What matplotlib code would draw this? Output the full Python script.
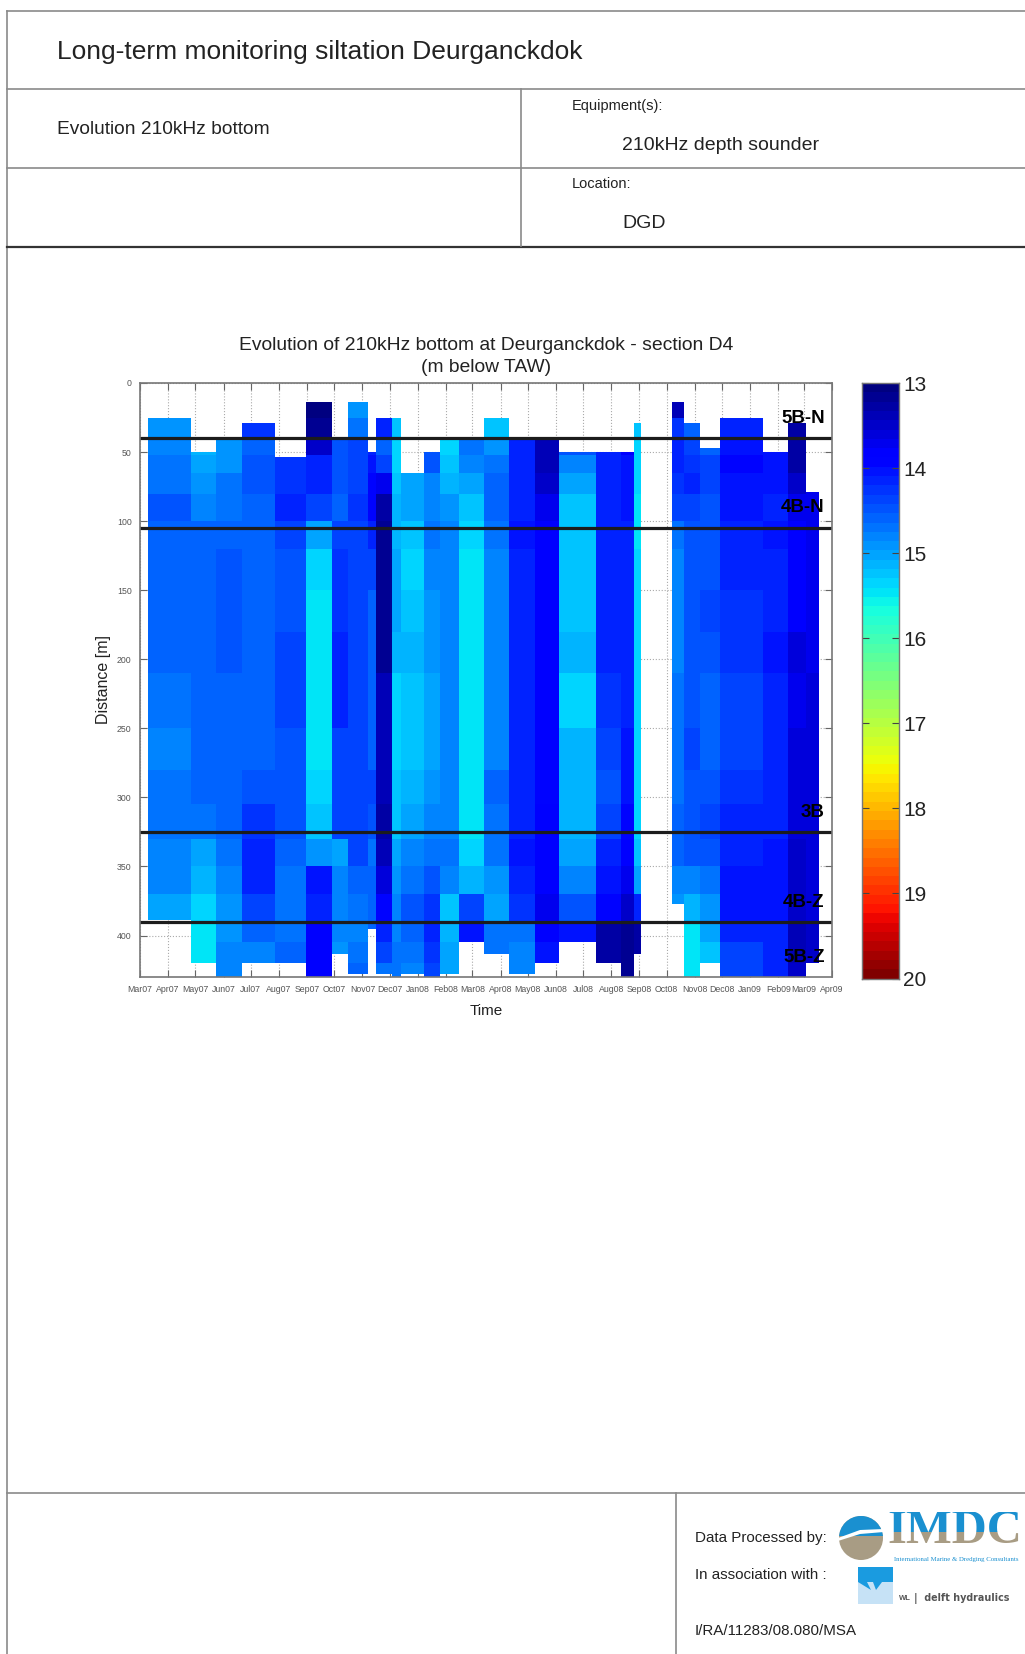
import numpy as np
import pandas as pd
import matplotlib
matplotlib.use('Agg')
import matplotlib.pyplot as plt
from matplotlib.patches import Circle, Rectangle, Polygon

plt.rcParams['font.family'] = ['Liberation Sans', 'DejaVu Sans']

n = np.nan

# Survey columns: edges in days after 1 March 2007
col_edges = [8.5, 56.5, 83.4, 112.7, 148.3, 182.8, 211, 228.7, 251, 260, 278, 287, 313, 330, 351,
             378.5, 406.7, 435, 461.4, 502, 529.4, 544.4, 552, 585.6, 599, 617, 639, 686, 713, 733.5, 747.5]
col_top = [25, 50, 40, 29, 53.5, 14, 40, 14, 50, 25, 25, 65, 50, 40, 40, 25, 40, 40, 50, 50, 50, 29, 0,
           14, 29, 47, 25, 50, 29, 78.7]
col_bottom = [388.8, 420, 430, 420, 420, 430, 413.5, 428, 395, 428, 430, 428, 430, 428, 406, 413, 428, 420,
              406, 420, 430, 413, 0, 377.5, 430, 420, 430, 430, 430, 420]

depth_edges = [14, 25, 40, 52, 65, 80, 100, 120, 150, 180, 210, 250, 280, 305, 330, 350, 370, 390, 405, 420, 430]

# Bottom level per survey, one value per depth band (m below TAW)
survey_values = [
    [n, 14.95, 14.85, 14.7, 14.65, 14.45, 14.55, 14.6, 14.6, 14.6, 14.65, 14.75, 14.65, 14.65, 14.75, 14.85, 15.0, n, n, n],
    [n, n, 15.1, 15.0, 14.9, 14.8, 14.6, 14.6, 14.6, 14.6, 14.6, 14.6, 14.6, 14.65, 15.0, 15.15, 15.35, 15.45, 15.45, n],
    [n, n, 14.9, 14.9, 14.7, 14.7, 14.6, 14.5, 14.45, 14.45, 14.55, 14.55, 14.55, 14.6, 14.7, 14.8, 14.9, 14.9, 14.85, 14.85],
    [n, 14.3, 14.55, 14.5, 14.45, 14.55, 14.55, 14.55, 14.55, 14.55, 14.55, 14.55, 14.45, 14.3, 14.2, 14.2, 14.35, 14.6, 14.85, n],
    [n, n, n, 14.3, 14.3, 14.2, 14.4, 14.45, 14.45, 14.4, 14.35, 14.5, 14.45, 14.5, 14.55, 14.7, 14.7, 14.65, 14.55, n],
    [13.1, 13.15, 13.45, 14.15, 14.2, 14.4, 15.0, 15.3, 15.45, 15.45, 15.45, 15.45, 15.4, 15.2, 14.9, 14.0, 14.1, 13.85, 13.85, 13.8],
    [n, n, 14.5, 14.5, 14.45, 14.55, 14.4, 14.3, 14.25, 14.1, 14.15, 14.35, 14.35, 14.4, 15.0, 14.85, 14.85, 14.85, 14.9, n],
    [14.9, 14.65, 14.4, 14.35, 14.35, 14.25, 14.4, 14.4, 14.4, 14.4, 14.4, 14.4, 14.4, 14.35, 14.4, 14.55, 14.7, 14.75, 14.7, 14.6],
    [n, n, 14.1, 14.05, 13.9, 13.95, 14.2, 14.4, 14.6, 14.6, 14.6, 14.55, 14.4, 14.45, 14.7, 14.6, 14.6, 14.55, n, n],
    [n, 14.1, 14.55, 14.4, 13.7, 13.3, 13.2, 13.2, 13.15, 13.2, 13.4, 13.4, 13.4, 13.3, 13.4, 13.6, 13.9, 14.1, 14.4, 14.7],
    [n, 15.2, 15.3, 15.4, 15.2, 15.1, 15.1, 15.0, 15.0, 15.1, 15.3, 15.4, 15.2, 15.2, 15.0, 14.9, 14.8, 14.75, 14.65, 14.65],
    [n, n, n, n, 15.0, 15.0, 15.2, 15.3, 15.25, 15.1, 15.2, 15.2, 15.1, 15.05, 14.8, 14.65, 14.5, 14.55, 14.7, 14.8],
    [n, n, 14.5, 14.5, 14.8, 14.75, 14.7, 14.8, 14.95, 14.95, 15.05, 15.0, 14.95, 14.85, 14.7, 14.5, 14.25, 14.2, 14.25, 14.35],
    [n, n, 15.3, 15.2, 15.1, 14.95, 14.75, 14.75, 14.75, 14.75, 14.85, 14.85, 14.85, 14.85, 14.7, 14.8, 15.2, 15.1, 15.05, 15.0],
    [n, n, 14.7, 14.8, 15.0, 15.2, 15.4, 15.45, 15.45, 15.45, 15.45, 15.5, 15.45, 15.45, 15.35, 15.1, 14.35, 14.05, n, n],
    [n, 15.2, 14.9, 14.65, 14.6, 14.55, 14.7, 14.75, 14.75, 14.75, 14.75, 14.75, 14.6, 14.65, 14.65, 14.95, 15.0, 14.65, 14.65, n],
    [n, n, 14.15, 14.15, 14.15, 14.1, 14.05, 14.1, 14.15, 14.2, 14.2, 14.2, 14.2, 14.1, 14.05, 14.2, 14.3, 14.7, 14.8, 14.85],
    [n, n, 13.4, 13.4, 13.45, 13.7, 13.85, 13.85, 13.85, 13.85, 13.85, 13.85, 13.9, 13.85, 13.85, 13.8, 13.75, 13.85, 14.05, n],
    [n, n, 14.5, 14.8, 15.0, 15.2, 15.25, 15.25, 15.2, 15.15, 15.3, 15.15, 15.15, 15.15, 15.05, 14.85, 14.5, 14.0, n, n],
    [n, n, 14.1, 14.1, 14.1, 14.1, 14.1, 14.1, 14.1, 14.1, 14.25, 14.4, 14.45, 14.35, 14.2, 14.05, 13.9, 13.3, 13.25, n],
    [n, n, 13.8, 14.0, 14.0, 14.0, 14.1, 14.1, 14.15, 14.1, 14.1, 14.0, 14.0, 13.95, 13.85, 13.7, 13.5, 13.2, 13.2, 13.2],
    [n, 15.2, 15.3, 15.35, 15.4, 15.45, 15.45, 15.4, 15.4, 15.4, 15.4, 15.4, 15.4, 15.35, 15.2, 15.0, 14.1, 13.3, 13.3, n],
    [n, n, n, n, n, n, n, n, n, n, n, n, n, n, n, n, n, n, n, n],
    [13.4, 14.3, 14.2, 14.2, 14.25, 14.4, 14.7, 14.8, 14.85, 14.85, 14.7, 14.7, 14.7, 14.55, 14.6, 14.75, 14.9, n, n, n],
    [n, 14.6, 14.4, 14.3, 14.2, 14.35, 14.45, 14.45, 14.45, 14.45, 14.45, 14.4, 14.45, 14.45, 14.45, 14.75, 15.1, 15.45, 15.45, 15.45],
    [n, n, 14.55, 14.4, 14.4, 14.45, 14.45, 14.45, 14.4, 14.45, 14.6, 14.6, 14.5, 14.35, 14.45, 14.7, 14.95, 15.05, 15.25, n],
    [n, 14.1, 14.0, 13.95, 14.0, 14.05, 14.15, 14.2, 14.25, 14.25, 14.4, 14.4, 14.3, 14.2, 14.1, 14.05, 14.05, 14.2, 14.35, 14.4],
    [n, n, 14.05, 14.0, 14.05, 14.1, 14.05, 14.1, 14.1, 14.05, 14.15, 14.2, 14.1, 14.1, 14.05, 14.05, 14.05, 14.1, 14.1, 14.1],
    [n, 13.3, 13.3, 13.3, 13.5, 13.7, 13.8, 13.8, 13.8, 13.65, 13.7, 13.6, 13.6, 13.55, 13.5, 13.5, 13.5, 13.4, 13.4, 13.5],
    [n, n, n, n, 13.75, 13.75, 13.75, 13.7, 13.7, 13.75, 13.65, 13.6, 13.6, 13.6, 13.6, 13.6, 13.6, 13.45, 13.45, n],
]

line_depths = [39.5, 105, 324.7, 390.3]
zone_labels = ['5B-N', '4B-N', '3B', '4B-Z', '5B-Z']
zone_depths = [25.4, 90, 311, 376, 416]
y_ticks = [0, 50, 100, 150, 200, 250, 300, 350, 400]
cbar_ticks = [13, 14, 15, 16, 17, 18, 19, 20]

W, H = 1025, 1654
fig = plt.figure(figsize=(W / 100, H / 100), dpi=100)

# page layout drawn in pixel coordinates
page = fig.add_axes([0, 0, 1, 1])
page.set_xlim(0, W)
page.set_ylim(H, 0)
page.axis('off')

grey = '#8a8a8a'
page.plot([7, 7], [11, H], color=grey, lw=1.2)
page.plot([7, W], [11, 11], color=grey, lw=1.2)
page.plot([7, W], [89, 89], color=grey, lw=1.2)
page.plot([7, W], [168, 168], color=grey, lw=1.2)
page.plot([7, W], [246.5, 246.5], color='#333333', lw=1.6)
page.plot([521, 521], [89, 246], color=grey, lw=1.2)
page.plot([7, W], [1493, 1493], color=grey, lw=1.2)
page.plot([675.5, 675.5], [1493, H], color=grey, lw=1.2)

txt = '#222222'
page.text(57, 52, 'Long-term monitoring siltation Deurganckdok', fontsize=19.0, color=txt, va='center')
page.text(57, 130, 'Evolution 210kHz bottom', fontsize=13.8, color=txt, va='center')
page.text(572, 106, 'Equipment(s):', fontsize=10.5, color=txt, va='center')
page.text(622, 146, '210kHz depth sounder', fontsize=14, color=txt, va='center')
page.text(572, 184, 'Location:', fontsize=10.5, color=txt, va='center')
page.text(622, 224, 'DGD', fontsize=14, color=txt, va='center')
page.text(695, 1538, 'Data Processed by:', fontsize=10.9, color=txt, va='center')
page.text(695, 1575, 'In association with :', fontsize=10.9, color=txt, va='center')
page.text(695, 1631, 'I/RA/11283/08.080/MSA', fontsize=10.9, color=txt, va='center')

# IMDC logo
blue_logo = '#1a90d0'
tan_logo = '#a89c84'
page.add_patch(Circle((861, 1538), 22, color=tan_logo, lw=0))
top_arc = Circle((861, 1538), 22, color=blue_logo, lw=0)
page.add_patch(top_arc)
top_arc.set_clip_path(Rectangle((830, 1510), 70, 26, transform=page.transData))
page.add_patch(Polygon([[838, 1541], [860, 1534], [884, 1532], [884, 1529], [860, 1530], [838, 1538]],
                       color='white', lw=0))
for colour, y0, h in [(blue_logo, 1512, 20), (tan_logo, 1532, 22)]:
    t = page.text(955, 1531, 'IMDC', fontsize=35, family='Liberation Serif', weight='bold', color=colour,
                  ha='center', va='center')
    t.set_clip_on(True)
    t.set_clip_path(Rectangle((885, y0), 140, h, transform=page.transData))
page.text(956, 1559, 'International Marine & Dredging Consultants', fontsize=4.9, family='Liberation Serif',
          color=blue_logo, ha='center', va='center')

# delft hydraulics logo
page.add_patch(Rectangle((858, 1567), 35, 37, color='#c6e2f6', lw=0))
page.add_patch(Rectangle((858, 1567), 35, 15, color='#1a9be0', lw=0))
page.add_patch(Polygon([[858, 1582], [867, 1582], [871, 1590]], color='#1a9be0', lw=0))
page.add_patch(Polygon([[873, 1582], [882, 1582], [876, 1590]], color='#1a9be0', lw=0))
page.text(899, 1599, 'WL', fontsize=5.5, weight='bold', color='#555555', va='center')
page.text(914, 1599, '|  delft hydraulics', fontsize=6.9, family='DejaVu Sans', weight='bold',
          color='#555555', va='center')

# main chart
px_left, px_right, px_top, px_bottom = 140, 832, 383, 977
ax = fig.add_axes([px_left / W, 1 - px_bottom / H, (px_right - px_left) / W, (px_bottom - px_top) / H])

months = pd.date_range('2007-03-01', '2009-04-01', freq='MS')
month_days = (months - months[0]).days.values
month_labels = months.strftime('%b%y')
x_end = month_days[-1]
y_end = 430

for i, values in enumerate(survey_values):
    x = [col_edges[i], col_edges[i + 1]]
    y = np.clip(depth_edges, col_top[i], col_bottom[i])
    c = np.ma.masked_invalid(np.array(values).reshape(-1, 1))
    ax.pcolormesh(x, y, c, cmap=plt.get_cmap('jet', 64), vmin=13, vmax=20, linewidth=0)

ax.set_xlim(0, x_end)
ax.set_ylim(y_end, 0)
ax.set_xticks(month_days)
ax.set_xticklabels(month_labels, fontsize=6.3, color='#555555')
ax.set_yticks(y_ticks)
ax.set_yticklabels(y_ticks, fontsize=6.3, color='#555555')
ax.set_axisbelow(True)
ax.grid(True, ls=':', color='#aaaaaa', lw=0.8)
ax.tick_params(direction='in', length=5, width=0.8, color='#666666', top=True, right=True, pad=6)
for s in ax.spines.values():
    s.set_color('#777777')
    s.set_linewidth(1.2)
ax.set_xlabel('Time', fontsize=11, color=txt, labelpad=7)
ax.set_ylabel('Distance [m]', fontsize=11.5, color=txt, labelpad=4)
ax.set_title('Evolution of 210kHz bottom at Deurganckdok - section D4\n(m below TAW)',
             fontsize=13.9, color=txt, pad=8, linespacing=1.35)

for d in line_depths:
    ax.axhline(d, color='#1c1c1c', lw=2.3)
for lab, d in zip(zone_labels, zone_depths):
    ax.text(754, d, lab, fontsize=13.5, weight='bold', color='black', ha='right', va='center')

# colour bar
cax = fig.add_axes([861.5 / W, 1 - 978.5 / H, 37.8 / W, 595.5 / H])
levels = np.linspace(13, 20, 65)
cax.pcolormesh([0, 1], levels, np.linspace(13, 20, 64).reshape(-1, 1), cmap=plt.get_cmap('jet', 64),
               vmin=13, vmax=20, linewidth=0)
cax.set_ylim(20, 13)
cax.set_xticks([])
cax.set_yticks(cbar_ticks)
cax.set_yticklabels(cbar_ticks, fontsize=15, color=txt)
cax.tick_params(axis='y', direction='in', length=5, width=0.8, color='#444444', left=True, right=True,
                labelleft=False, labelright=True, pad=3)
for s in cax.spines.values():
    s.set_color('#777777')
    s.set_linewidth(1.0)

fig.savefig('out.png', dpi=100)
